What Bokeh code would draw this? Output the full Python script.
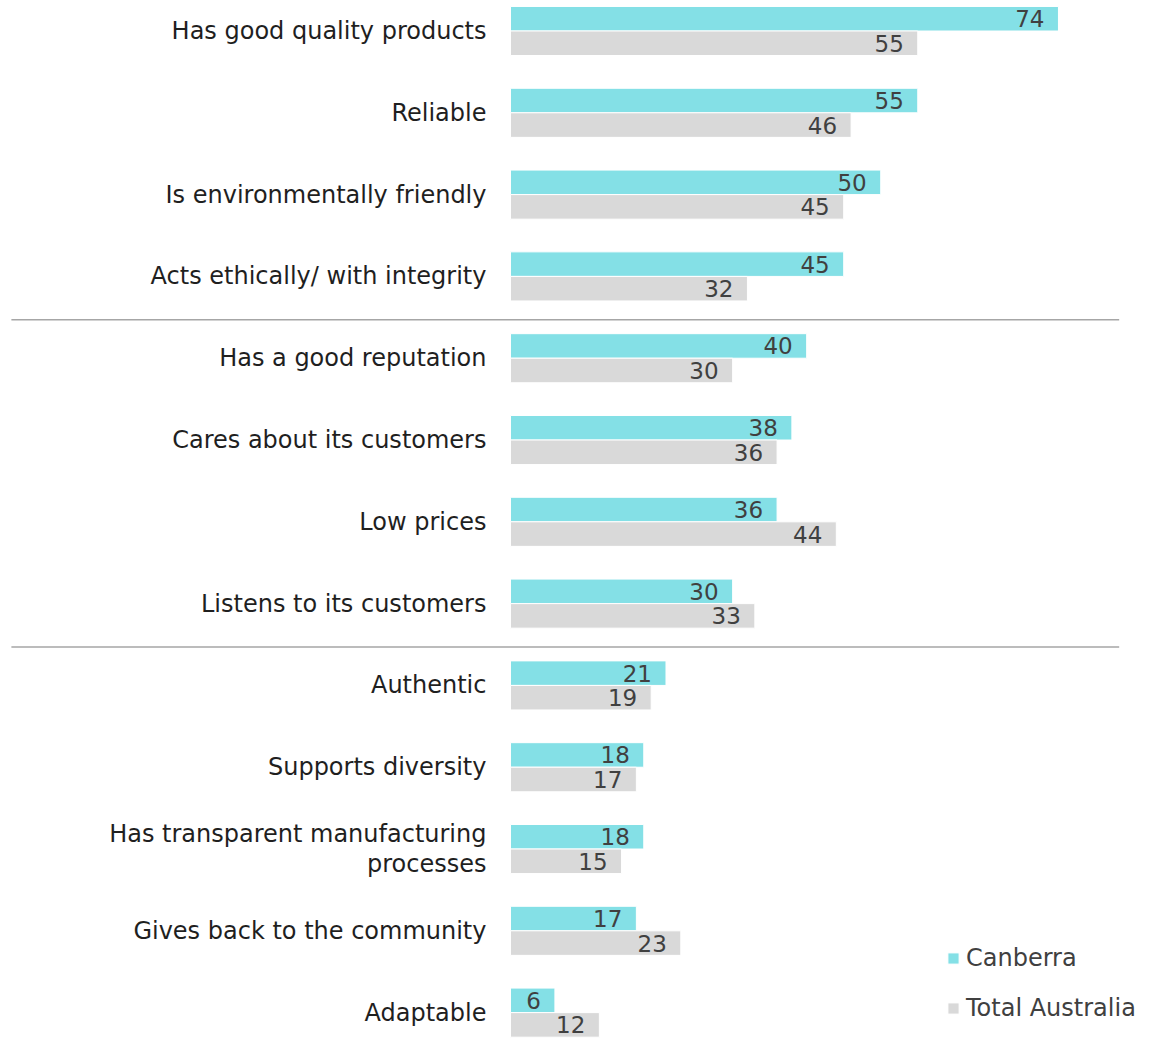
from bokeh.plotting import figure
from bokeh.models import ColumnDataSource, Range1d, Legend, LegendItem
from bokeh.core.properties import value
from bokeh.embed import file_html
from bokeh.resources import INLINE

categories = [
    "Has good quality products",
    "Reliable",
    "Is environmentally friendly",
    "Acts ethically/ with integrity",
    "Has a good reputation",
    "Cares about its customers",
    "Low prices",
    "Listens to its customers",
    "Authentic",
    "Supports diversity",
    "Has transparent manufacturing\nprocesses",
    "Gives back to the community",
    "Adaptable",
]
canberra = [74, 55, 50, 45, 40, 38, 36, 30, 21, 18, 18, 17, 6]
total_australia = [55, 46, 45, 32, 30, 36, 44, 33, 19, 17, 15, 23, 12]
separators_after = [3, 7]

FONT = "DejaVu Sans"
CYAN = "#84e0e6"
GREY = "#d9d9d9"

n = len(categories)
idx = list(range(n))
src = ColumnDataSource(dict(
    y=idx,
    yc=[i - 0.15 for i in idx],
    yt=[i + 0.15 for i in idx],
    cat=categories,
    can=canberra,
    tot=total_australia,
    can_lbl=[str(v) for v in canberra],
    tot_lbl=[str(v) for v in total_australia],
))

W, H = 1158, 1046
p = figure(width=W, height=H, output_backend="svg", toolbar_location=None,
           x_range=Range1d(-68.87, 87.51), y_range=Range1d(12.414, -0.3729),
           min_border=0, outline_line_color=None)
p.axis.visible = False
p.grid.visible = False
p.background_fill_color = "white"

r1 = p.hbar(y="yc", left=0, right="can", height=0.30, source=src,
            fill_color=CYAN, line_color="white", line_width=1)
r2 = p.hbar(y="yt", left=0, right="tot", height=0.30, source=src,
            fill_color=GREY, line_color="white", line_width=1)

p.text(x="can", y="yc", text="can_lbl", source=src, x_offset=-14,
       text_align="right", text_baseline="middle", text_font=value(FONT),
       text_font_size="23px", text_color="#404040")
p.text(x="tot", y="yt", text="tot_lbl", source=src, x_offset=-14,
       text_align="right", text_baseline="middle", text_font=value(FONT),
       text_font_size="23px", text_color="#404040")

p.text(x=0, y="y", text="cat", source=src, x_offset=-24,
       text_align="right", text_baseline="middle", text_font=value(FONT),
       text_font_size="24px", text_color="#1f1f1f", text_line_height=1.05)

sep = ColumnDataSource(dict(y=[s + 0.53 for s in separators_after],
                            x0=[-67.4] * len(separators_after),
                            x1=[82.2] * len(separators_after)))
p.segment(x0="x0", y0="y", x1="x1", y1="y", source=sep,
          line_color="#a6a6a6", line_width=1.5)

legend = Legend(items=[LegendItem(label="Canberra", renderers=[r1]),
                       LegendItem(label="Total Australia", renderers=[r2])],
                location=(946, 24), orientation="vertical",
                glyph_width=14, glyph_height=14, label_height=28,
                spacing=22, padding=0, margin=0, label_standoff=6,
                border_line_color=None, background_fill_alpha=0,
                label_text_font=FONT, label_text_font_size="24px",
                label_text_color="#404040")
p.add_layout(legend)

open("out.html", "w").write(file_html(p, INLINE))
